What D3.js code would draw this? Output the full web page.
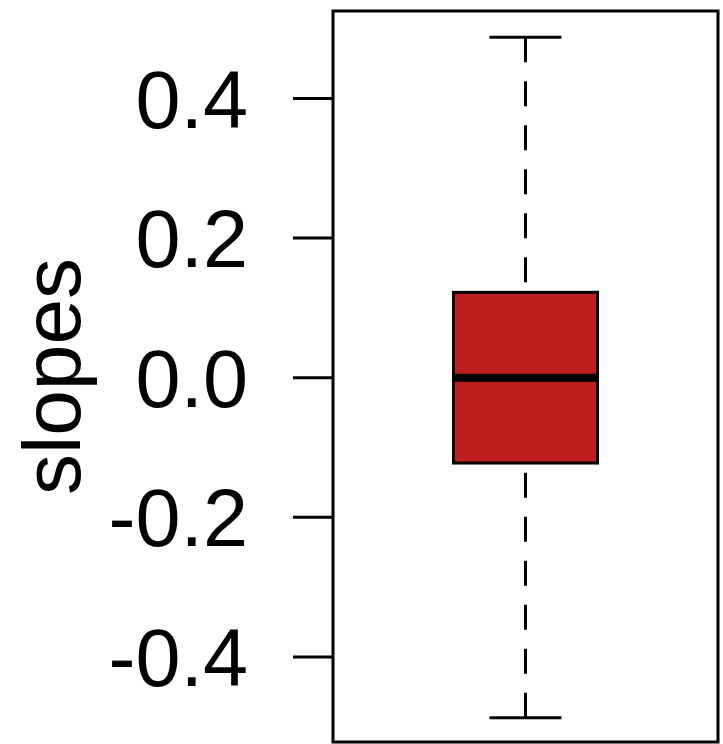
<!DOCTYPE html>
<html><head><meta charset="utf-8">
<script src="https://cdn.jsdelivr.net/npm/d3@7"></script>
<style>body{margin:0;background:#fff}svg{display:block}</style>
</head><body>
<script>
const categories = ["slopes"];
const lowerWhisker = [-0.488];
const q1 = [-0.123];
const median = [-0.001];
const q3 = [0.1215];
const upperWhisker = [0.487];
const tickValues = [-0.4, -0.2, 0.0, 0.2, 0.4];
const tickLabels = ["-0.4", "-0.2", "0.0", "0.2", "0.4"];

const W = 723, H = 744;
const svg = d3.select("body").append("svg").attr("width", W).attr("height", H);
const pLeft = 333, pRight = 718, pTop = 11, pBottom = 742;
const y = d3.scaleLinear().domain([-0.5226, 0.5245]).range([pBottom, pTop]);
const x = d3.scaleLinear().domain([0.5, 1.5]).range([pLeft, pRight]);
const font = "'Liberation Sans', Arial, sans-serif";

// y axis
const axis = d3.axisLeft(y).tickValues(tickValues)
  .tickFormat((d, i) => tickLabels[i]).tickSize(40).tickPadding(45);
const ga = svg.append("g").attr("transform", `translate(${pLeft},0)`).call(axis);
ga.select(".domain").remove();
ga.selectAll(".tick line").attr("stroke", "#000").attr("stroke-width", 3);
ga.selectAll(".tick text").attr("font-family", font).attr("font-size", 81)
  .attr("fill", "#000").attr("dy", "0.36em");

// y label
svg.append("text").attr("transform", `translate(80,${(pTop + pBottom) / 2}) rotate(-90)`)
  .attr("text-anchor", "middle").attr("font-family", font).attr("font-size", 82)
  .attr("fill", "#000").text(categories[0]);

// box
categories.forEach((c, i) => {
  const cx = x(i + 1);
  const bw = x(1.187) - x(0.813);
  const cw = bw / 2;
  const g = svg.append("g");
  g.append("line").attr("x1", cx).attr("x2", cx).attr("y1", y(upperWhisker[i])).attr("y2", y(q3[i]))
    .attr("stroke", "#000").attr("stroke-width", 3).attr("stroke-dasharray", "25 19");
  g.append("line").attr("x1", cx).attr("x2", cx).attr("y1", y(lowerWhisker[i])).attr("y2", y(q1[i]))
    .attr("stroke", "#000").attr("stroke-width", 3).attr("stroke-dasharray", "25 19");
  [upperWhisker[i], lowerWhisker[i]].forEach(v => {
    g.append("line").attr("x1", cx - cw / 2).attr("x2", cx + cw / 2).attr("y1", y(v)).attr("y2", y(v))
      .attr("stroke", "#000").attr("stroke-width", 3);
  });
  g.append("rect").attr("x", cx - bw / 2).attr("width", bw)
    .attr("y", y(q3[i])).attr("height", y(q1[i]) - y(q3[i]))
    .attr("fill", "#bd1e1e").attr("stroke", "#000").attr("stroke-width", 3);
  g.append("line").attr("x1", cx - bw / 2).attr("x2", cx + bw / 2).attr("y1", y(median[i])).attr("y2", y(median[i]))
    .attr("stroke", "#000").attr("stroke-width", 8);
});

// frame
svg.append("rect").attr("x", pLeft).attr("y", pTop).attr("width", pRight - pLeft).attr("height", pBottom - pTop)
  .attr("fill", "none").attr("stroke", "#000").attr("stroke-width", 3);
</script>
</body></html>
